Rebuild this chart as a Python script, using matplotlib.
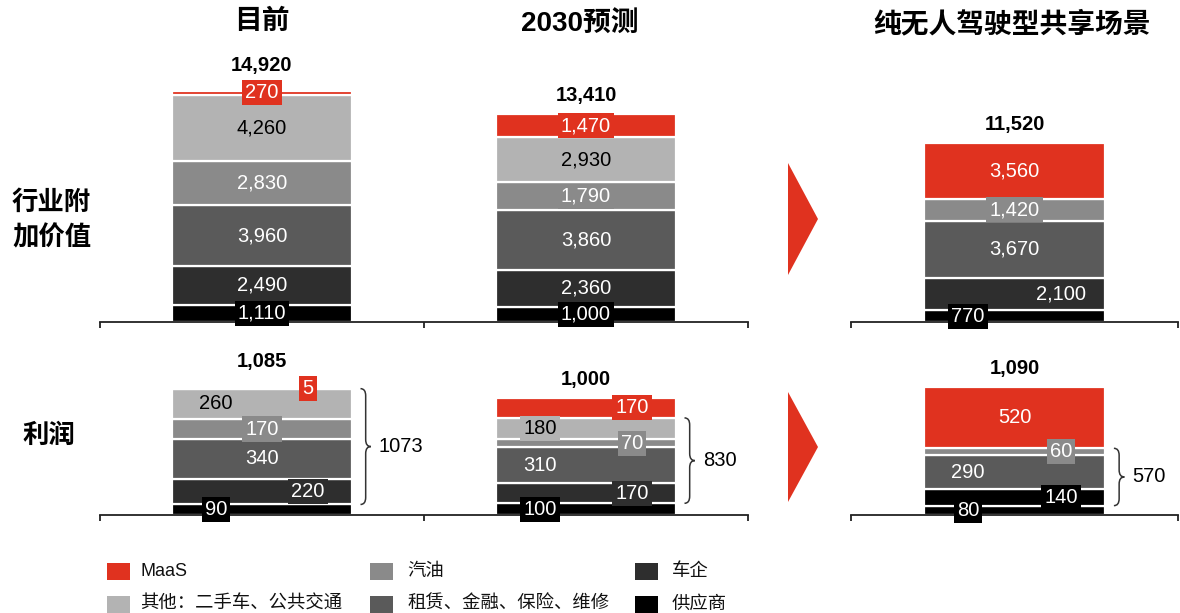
import matplotlib
matplotlib.use("Agg")
import matplotlib.pyplot as plt
from matplotlib.patches import Polygon, Rectangle, PathPatch
from matplotlib.path import Path

# ---------------------------------------------------------------- data
series = ["供应商", "车企", "租赁、金融、保险、维修", "汽油", "其他：二手车、公共交通", "MaaS"]
column_titles = ["目前", "2030预测", "纯无人驾驶型共享场景"]
row_titles = ["行业附\n加价值", "利润"]

value_now = [1110, 2490, 3960, 2830, 4260, 270]
value_2030 = [1000, 2360, 3860, 1790, 2930, 1470]
value_auto = [770, 2100, 3670, 1420, 0, 3560]

profit_now = [90, 220, 340, 170, 260, 5]
profit_2030 = [100, 170, 310, 70, 180, 170]
profit_auto = [80, 140, 290, 60, 0, 520]
profit_brace = [1073, 830, 570]

legend_rows = [["MaaS", "汽油", "车企"],
               ["其他：二手车、公共交通", "租赁、金融、保险、维修", "供应商"]]

# ---------------------------------------------------------------- style
W, H, DPI = 1180, 613, 100
colors = {"供应商": "#000000", "车企": "#2e2e2e", "租赁、金融、保险、维修": "#5a5a5a",
          "汽油": "#8a8a8a", "其他：二手车、公共交通": "#b3b3b3", "MaaS": "#e0321f"}
text_colors = {"其他：二手车、公共交通": "black"}
NUM_FONT = ["Liberation Sans", "Noto Sans CJK SC"]
CJK_FONT = ["Noto Sans CJK SC", "DejaVu Sans"]
BAR_W = 0.556
SIDE = 0.142  # horizontal shift of off-centre labels, in category units

# label placement per segment: -1 left, 0 centre, +1 right
sides_value = [[0] * 6, [0] * 6, [-1, 1, 0, 0, 0, 0]]
sides_profit = [[-1, 1, 0, 0, -1, 1], [-1, 1, -1, 1, -1, 1], [-1, 1, -1, 1, 0, 0]]
total_gap_px = [[25, 19, 19], [27, 19, 19]]
# the robotaxi profit bar shows the OEM share in black
colour_override = {(1, 2, "车企"): "#000000"}

plt.rcParams["font.family"] = NUM_FONT
fig = plt.figure(figsize=(W / DPI, H / DPI), dpi=DPI)


def fx(x):
    return x / W


def fy(y):
    return 1 - y / H


def add_axes(left, right, top, bottom):
    return fig.add_axes([fx(left), fy(bottom), (right - left) / W, (bottom - top) / H])


def style_axes(ax, xlim, ylim):
    ax.set_xlim(*xlim)
    ax.set_ylim(*ylim)
    for s in ("top", "left", "right"):
        ax.spines[s].set_visible(False)
    ax.spines["bottom"].set_linewidth(1.3)
    ax.spines["bottom"].set_color("#222222")
    ticks = [xlim[0] + i for i in range(int(round(xlim[1] - xlim[0])) + 1)]
    ax.set_xticks(ticks)
    ax.set_xticklabels([])
    ax.set_yticks([])
    ax.tick_params(axis="x", direction="out", length=4, width=1.3, color="#222222")
    ax.patch.set_alpha(0)


def draw_stack(ax, row, col, x, values, sides, gap_px, label_size=14.5):
    bottom = 0
    for i, (name, v) in enumerate(zip(series, values)):
        if v <= 0:
            continue
        c = colour_override.get((row, col, name), colors[name])
        ax.bar(x, v, width=BAR_W, bottom=bottom, color=c, edgecolor="white",
               linewidth=1.6, zorder=2)
        ax.text(x + sides[i] * SIDE, bottom + v / 2, f"{v:,}", ha="center", va="center",
                fontsize=label_size, color=text_colors.get(name, "white"), zorder=4,
                bbox=dict(boxstyle="square,pad=0.15", fc=c, ec="none"))
        bottom += v
    ax.annotate(f"{bottom:,}", xy=(x, bottom), xytext=(0, gap_px * 0.72),
                textcoords="offset points", ha="center", va="center",
                fontsize=14.5, fontweight="bold", color="black", zorder=5)
    return bottom


def draw_brace(ax, x, ybot, ytop, label, px_per_unit):
    x0 = x + BAR_W / 2 + 0.026
    w = 0.032
    r = 7 / px_per_unit
    xa, xm, xt = x0, x0 + w / 2, x0 + w
    ymid = (ybot + ytop) / 2
    verts = [(xa, ytop), (xm, ytop), (xm, ytop - r),
             (xm, ymid + r), (xm, ymid), (xt, ymid),
             (xm, ymid), (xm, ymid - r),
             (xm, ybot + r), (xm, ybot), (xa, ybot)]
    codes = [Path.MOVETO, Path.CURVE3, Path.CURVE3,
             Path.LINETO, Path.CURVE3, Path.CURVE3,
             Path.CURVE3, Path.CURVE3,
             Path.LINETO, Path.CURVE3, Path.CURVE3]
    ax.add_patch(PathPatch(Path(verts, codes), fc="none", ec="#333333", lw=1.1,
                           clip_on=False, zorder=3))
    ax.text(xt + 0.024, ymid, str(label), ha="left", va="center", fontsize=14.5,
            color="black", clip_on=False)


# ---------------------------------------------------------------- axes
TOP_PX = 0.0155    # pixels per unit, value-added row
BOT_PX = 0.117     # pixels per unit, profit row

ax_v1 = add_axes(100, 748, 40, 322)
ax_v2 = add_axes(851, 1178, 40, 322)
ax_p1 = add_axes(100, 748, 350, 515)
ax_p2 = add_axes(851, 1178, 350, 515)

style_axes(ax_v1, (-0.5, 1.5), (0, 282 / TOP_PX))
style_axes(ax_v2, (-0.5, 0.5), (0, 282 / TOP_PX))
style_axes(ax_p1, (-0.5, 1.5), (0, 165 / BOT_PX))
style_axes(ax_p2, (-0.5, 0.5), (0, 165 / BOT_PX))

value_sets = [value_now, value_2030, value_auto]
profit_sets = [profit_now, profit_2030, profit_auto]
value_axes = [(ax_v1, 0), (ax_v1, 1), (ax_v2, 0)]
profit_axes = [(ax_p1, 0), (ax_p1, 1), (ax_p2, 0)]

for col in range(3):
    ax, x = value_axes[col]
    draw_stack(ax, 0, col, x, value_sets[col], sides_value[col], total_gap_px[0][col])
    ax, x = profit_axes[col]
    vals = profit_sets[col]
    draw_stack(ax, 1, col, x, vals, sides_profit[col], total_gap_px[1][col])
    draw_brace(ax, x, vals[0], sum(vals[:5]), profit_brace[col], BOT_PX)

# ---------------------------------------------------------------- titles
title_pos = [(262, 22), (580, 25), (1012, 25)]
for t, (x, y) in zip(column_titles, title_pos):
    fig.text(fx(x), fy(y), t, ha="center", va="center", fontsize=20,
             fontweight="bold", family=NUM_FONT)

fig.text(fx(12), fy(220), row_titles[0], ha="left", va="center", fontsize=19,
         fontweight="bold", family=CJK_FONT, linespacing=1.38)
fig.text(fx(22), fy(435), row_titles[1], ha="left", va="center", fontsize=19,
         fontweight="bold", family=CJK_FONT)

# ---------------------------------------------------------------- arrows
for top, bot in [(163, 275), (392, 502)]:
    mid = (top + bot) / 2
    fig.patches.append(Polygon([(fx(788), fy(top)), (fx(788), fy(bot)), (fx(818), fy(mid))],
                               closed=True, fc="#e0321f", ec="none",
                               transform=fig.transFigure))

# ---------------------------------------------------------------- legend
leg_x = [107, 370, 635]
leg_y = [571, 604]
for r, row in enumerate(legend_rows):
    for c, name in enumerate(row):
        x, y = leg_x[c], leg_y[r]
        fig.patches.append(Rectangle((fx(x), fy(y + 8.5)), 23 / W, 17 / H,
                                     fc=colors[name], ec="none",
                                     transform=fig.transFigure))
        is_latin = name.isascii()
        fig.text(fx(x + (33 if c == 0 else 37)), fy(y), name, ha="left", va="center",
                 fontsize=13 if is_latin else 13.2,
                 family=NUM_FONT if is_latin else CJK_FONT, color="#111111")

fig.savefig("out.png", dpi=DPI)
